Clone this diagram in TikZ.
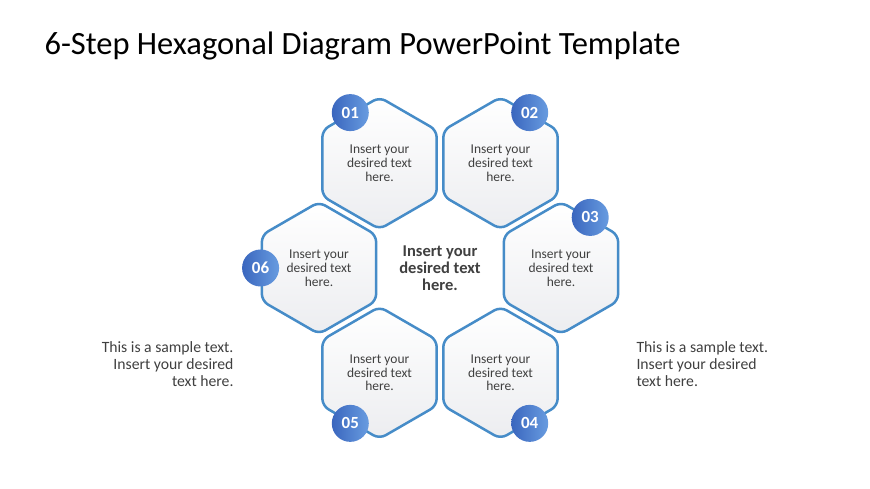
\documentclass[tikz,border=0pt]{standalone}
\usepackage{fontspec}
\setmainfont{Carlito}
\usepackage{tikz}
\usetikzlibrary{shapes.geometric, positioning}

\definecolor{hexline}{RGB}{70,140,200}
\definecolor{numdark}{RGB}{58,102,190}
\definecolor{numlight}{RGB}{104,156,224}
\definecolor{txtgray}{RGB}{64,64,64}
\definecolor{hexfill}{RGB}{236,237,240}

\tikzset{
  hexbox/.style={regular polygon, regular polygon sides=6, shape border rotate=30,
    minimum size=132pt, inner sep=0pt, rounded corners=7pt, draw=hexline,
    line width=2.5pt, top color=white, bottom color=hexfill, text=txtgray,
    align=center, font=\fontsize{13.5}{13.8}\selectfont},
  numdot/.style={circle, minimum size=37pt, inner sep=0pt, left color=numdark,
    right color=numlight, text=white, font=\fontsize{17}{17}\selectfont\bfseries},
  sidetext/.style={text=txtgray, font=\fontsize{15.7}{17}\selectfont}
}

\begin{document}
\begin{tikzpicture}[x=1pt, y=1pt]

        \useasboundingbox[fill=white] (0,0) rectangle (870,489);

        % Title
        \node[anchor=west, font=\fontsize{32.5}{32.5}\selectfont] (title) at (41,443)
            {6-Step Hexagonal Diagram PowerPoint Template};

        % Centre of the ring
        \coordinate (c) at (440,221);
        \node[text=txtgray, align=center, font=\fontsize{16.5}{17}\selectfont\bfseries] (mid) at (c)
            {Insert your\\desired text\\here.};

        % Hexagons
        \node[hexbox] (h1) at ([shift={(120:121)}]c) {Insert your\\desired text\\here.};
        \node[hexbox] (h2) at ([shift={(60:121)}]c) {Insert your\\desired text\\here.};
        \node[hexbox] (h3) at ([shift={(0:121)}]c) {Insert your\\desired text\\here.};
        \node[hexbox] (h4) at ([shift={(300:121)}]c) {Insert your\\desired text\\here.};
        \node[hexbox] (h5) at ([shift={(240:121)}]c) {Insert your\\desired text\\here.};
        \node[hexbox] (h6) at ([shift={(180:121)}]c) {Insert your\\desired text\\here.};

        % Step numbers
        \node[numdot] (n1) at (h1.120) {01};
        \node[numdot] (n2) at (h2.60) {02};
        \node[numdot] (n3) at (h3.60) {03};
        \node[numdot] (n4) at (h4.300) {04};
        \node[numdot] (n5) at (h5.240) {05};
        \node[numdot] (n6) at (h6.180) {06};

        % Side notes
        \node[sidetext, anchor=east, align=right] (noteL) at (237,125)
            {This is a sample text.\\Insert your desired\\text here.};
        \node[sidetext, anchor=west, align=left] (noteR) at (633,125)
            {This is a sample text.\\Insert your desired\\text here.};

\end{tikzpicture}
\end{document}
